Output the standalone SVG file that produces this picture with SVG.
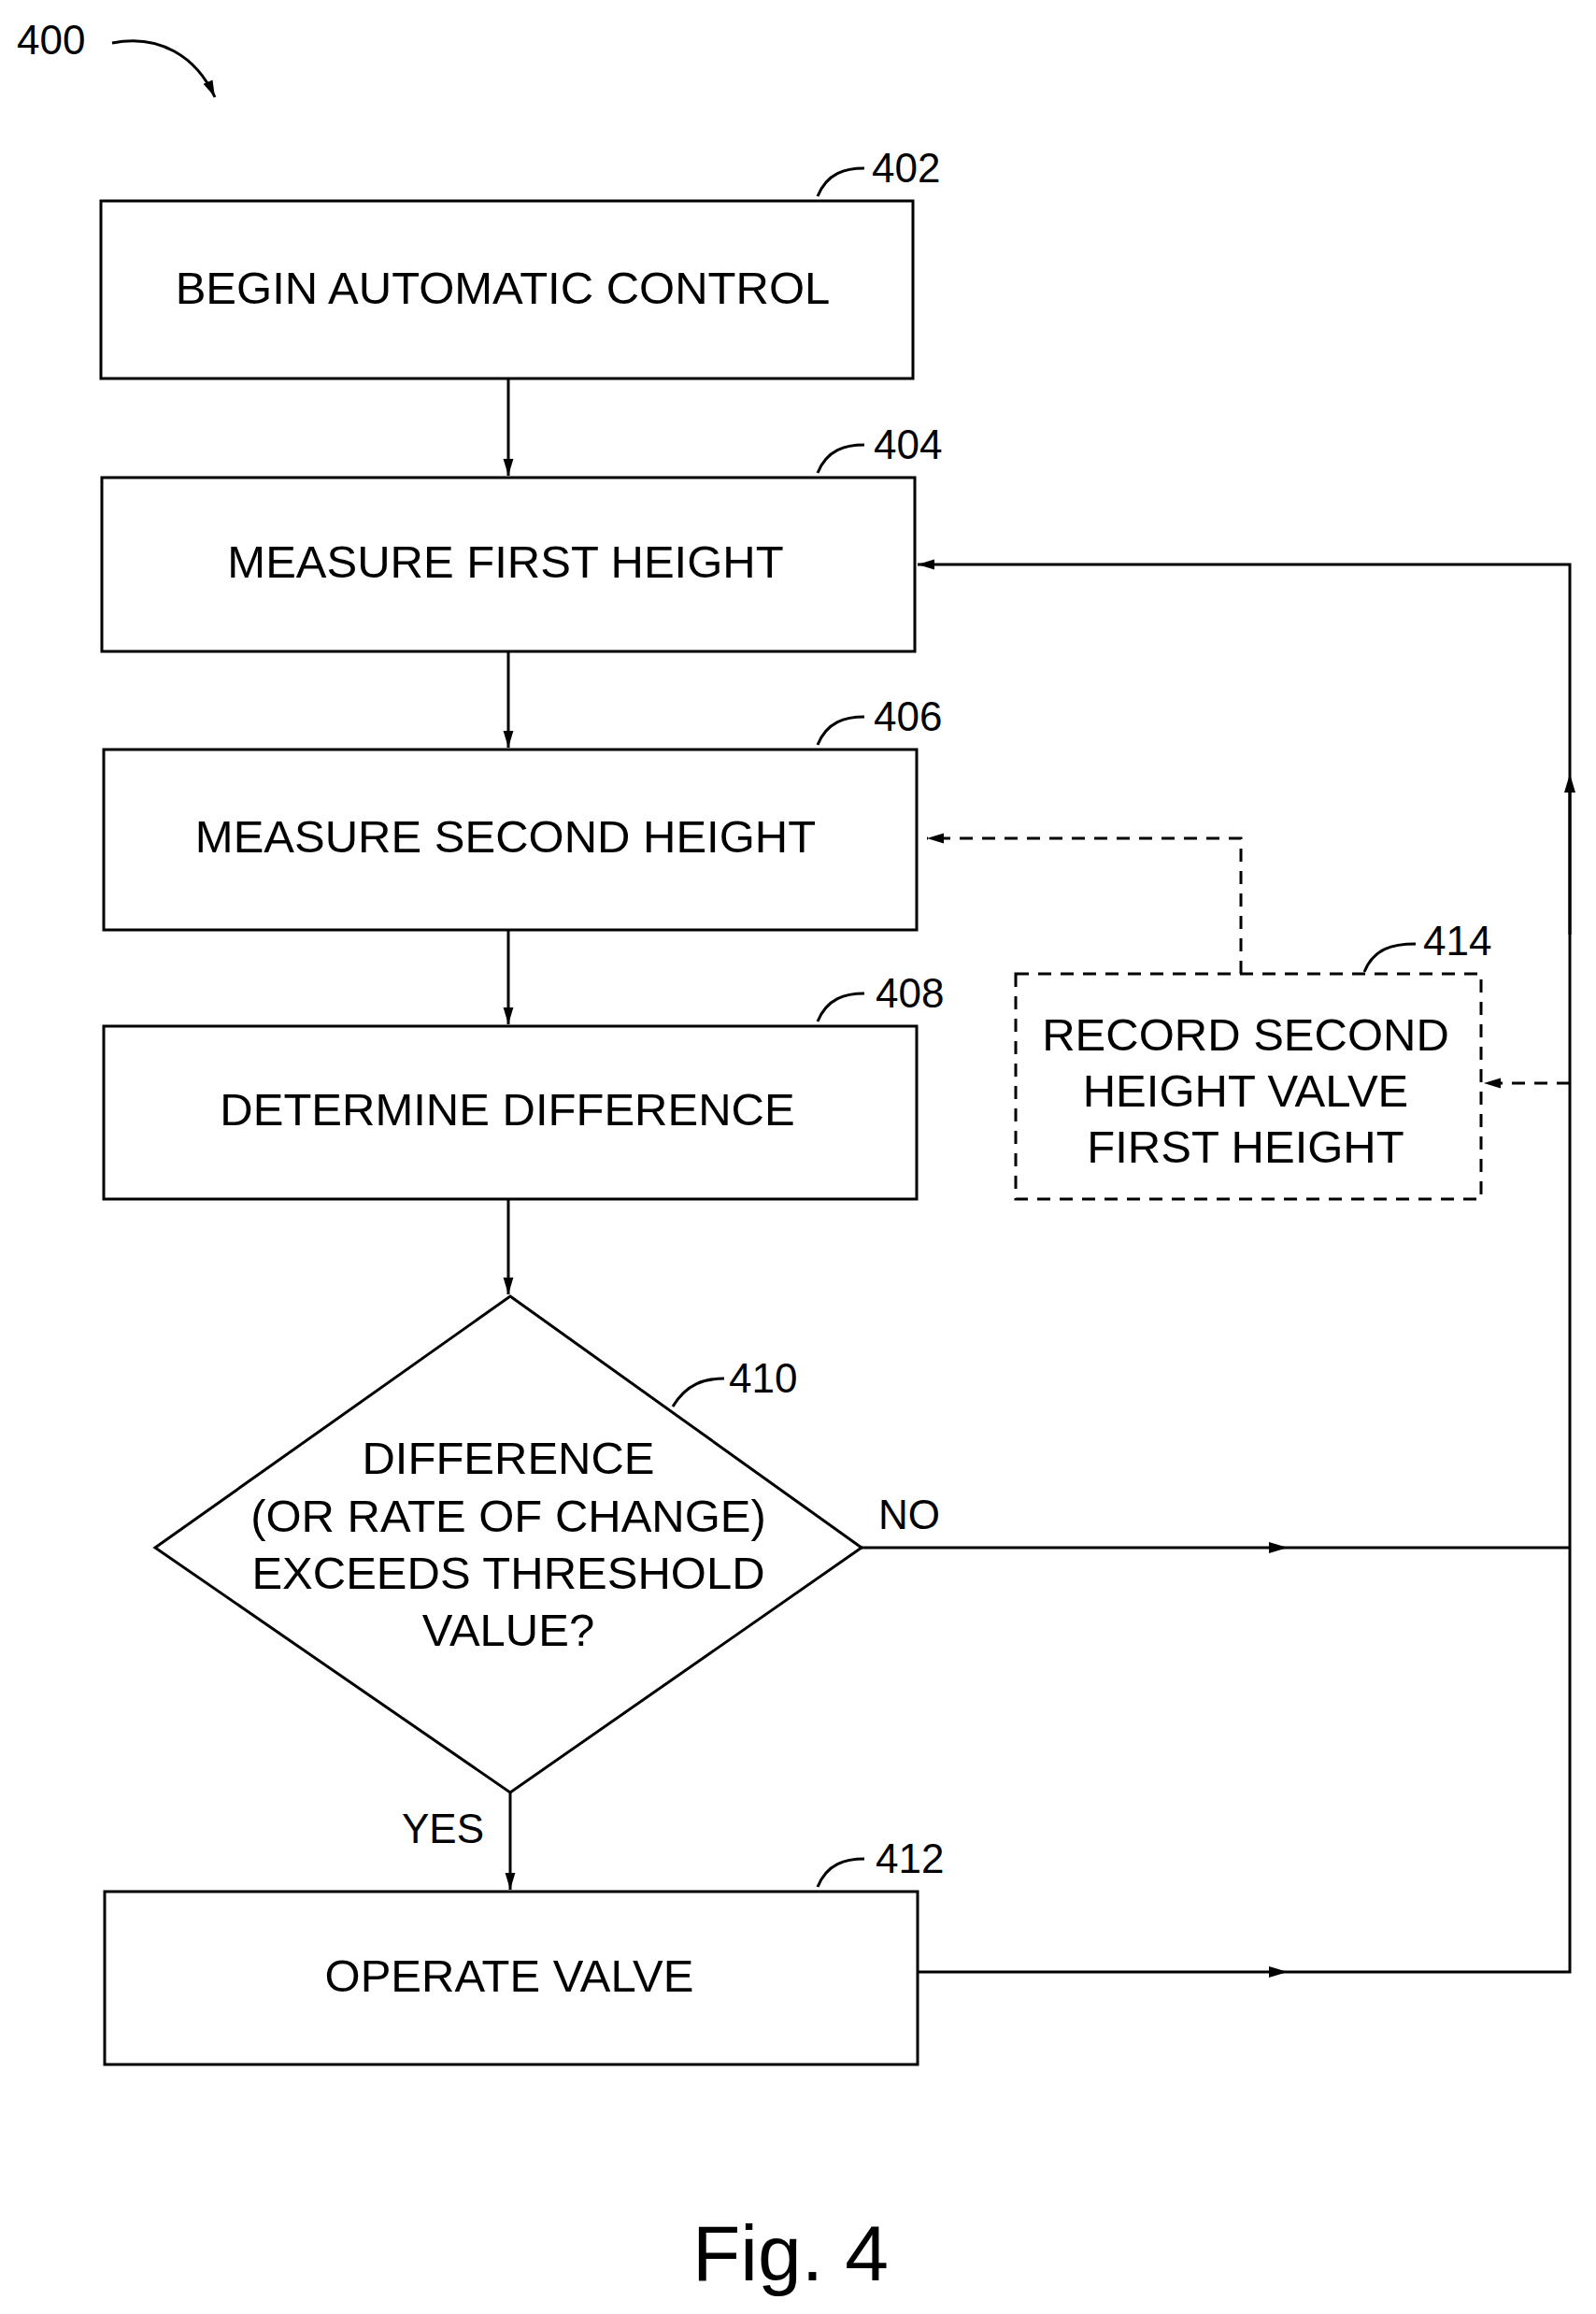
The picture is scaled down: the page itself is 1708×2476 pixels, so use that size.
<svg xmlns="http://www.w3.org/2000/svg" width="1708" height="2476" viewBox="0 0 1708 2476">
<style>
.b{fill:#fff;stroke:#000;stroke-width:3}
.t{font-family:"Liberation Sans",Arial,sans-serif;font-size:49px;fill:#000;text-anchor:middle}
.r{font-family:"Liberation Sans",Arial,sans-serif;font-size:44px;fill:#000}
.l{fill:none;stroke:#000;stroke-width:3}
.d{fill:none;stroke:#000;stroke-width:3;stroke-dasharray:14,10}
</style>
<defs>
<marker id="a" viewBox="0 0 10 10" refX="10" refY="5" markerWidth="18" markerHeight="18" orient="auto" markerUnits="userSpaceOnUse"><path d="M0,2 L10,5 L0,8 z" fill="#000"/></marker>
<marker id="m" viewBox="0 0 10 10" refX="5" refY="5" markerWidth="20" markerHeight="20" orient="auto" markerUnits="userSpaceOnUse"><path d="M0,2 L10,5 L0,8 z" fill="#000"/></marker>
</defs>
<text class="r" x="18" y="58">400</text>
<path class="l" d="M120,46 C170,36 210,60 230,104" marker-end="url(#a)"/>
<g id="n402"><rect class="b" x="108" y="215" width="869" height="190"/><text class="t" x="538" y="325">BEGIN AUTOMATIC CONTROL</text>
<path class="l" d="M875,210 C885,185 905,180 925,180"/><text class="r" x="933" y="195">402</text></g>
<g id="n404"><rect class="b" x="109" y="511" width="870" height="186"/><text class="t" x="541" y="618">MEASURE FIRST HEIGHT</text>
<path class="l" d="M875,506 C885,481 905,476 925,476"/><text class="r" x="935" y="491">404</text></g>
<g id="n406"><rect class="b" x="111" y="802" width="870" height="193"/><text class="t" x="541" y="912">MEASURE SECOND HEIGHT</text>
<path class="l" d="M875,797 C885,772 905,767 925,767"/><text class="r" x="935" y="782">406</text></g>
<g id="n408"><rect class="b" x="111" y="1098" width="870" height="185"/><text class="t" x="543" y="1204">DETERMINE DIFFERENCE</text>
<path class="l" d="M875,1093 C885,1068 905,1063 925,1063"/><text class="r" x="937" y="1078">408</text></g>
<g id="n410"><path class="b" d="M546,1387 L922,1656 L546,1918 L166,1656 Z"/>
<text class="t" x="544" y="1577">DIFFERENCE</text><text class="t" x="544" y="1639">(OR RATE OF CHANGE)</text><text class="t" x="544" y="1700">EXCEEDS THRESHOLD</text><text class="t" x="544" y="1761">VALUE?</text>
<path class="l" d="M720,1505 C735,1480 755,1475 775,1475"/><text class="r" x="780" y="1490">410</text></g>
<g id="n412"><rect class="b" x="112" y="2024" width="870" height="185"/><text class="t" x="545" y="2131">OPERATE VALVE</text>
<path class="l" d="M875,2019 C885,1994 905,1989 925,1989"/><text class="r" x="937" y="2004">412</text></g>
<g id="n414"><rect class="b" x="1087" y="1042" width="498" height="241" style="stroke-dasharray:14,10"/>
<text class="t" x="1333" y="1124">RECORD SECOND</text><text class="t" x="1333" y="1184">HEIGHT VALVE</text><text class="t" x="1333" y="1244">FIRST HEIGHT</text>
<path class="l" d="M1460,1040 C1470,1015 1490,1010 1515,1010"/><text class="r" x="1523" y="1022">414</text></g>
<g id="connectors">
<path class="l" d="M544,405 V509" marker-end="url(#a)"/>
<path class="l" d="M544,697 V800" marker-end="url(#a)"/>
<path class="l" d="M544,995 V1096" marker-end="url(#a)"/>
<path class="l" d="M544,1283 V1385" marker-end="url(#a)"/>
<path class="l" d="M546,1918 V2022" marker-end="url(#a)"/>
<path class="l" d="M922,1656 H1368" marker-end="url(#m)"/><path class="l" d="M1368,1656 H1680"/>
<path class="l" d="M982,2110 H1368" marker-end="url(#m)"/><path class="l" d="M1368,2110 H1680 V838"/>
<path class="l" d="M1680,1000 V838" marker-end="url(#m)"/>
<path class="l" d="M1680,838 V604 H982" marker-end="url(#a)"/>
<path class="d" d="M1328,1042 V897 H992" marker-end="url(#a)"/>
<path class="d" d="M1680,1159 H1588" marker-end="url(#a)"/>
<text class="r" x="940" y="1636">NO</text>
<text class="r" x="430" y="1972">YES</text>
</g>
<text x="846" y="2440" style="font-family:'Liberation Sans',Arial,sans-serif;font-size:84px;text-anchor:middle">Fig. 4</text>
</svg>
